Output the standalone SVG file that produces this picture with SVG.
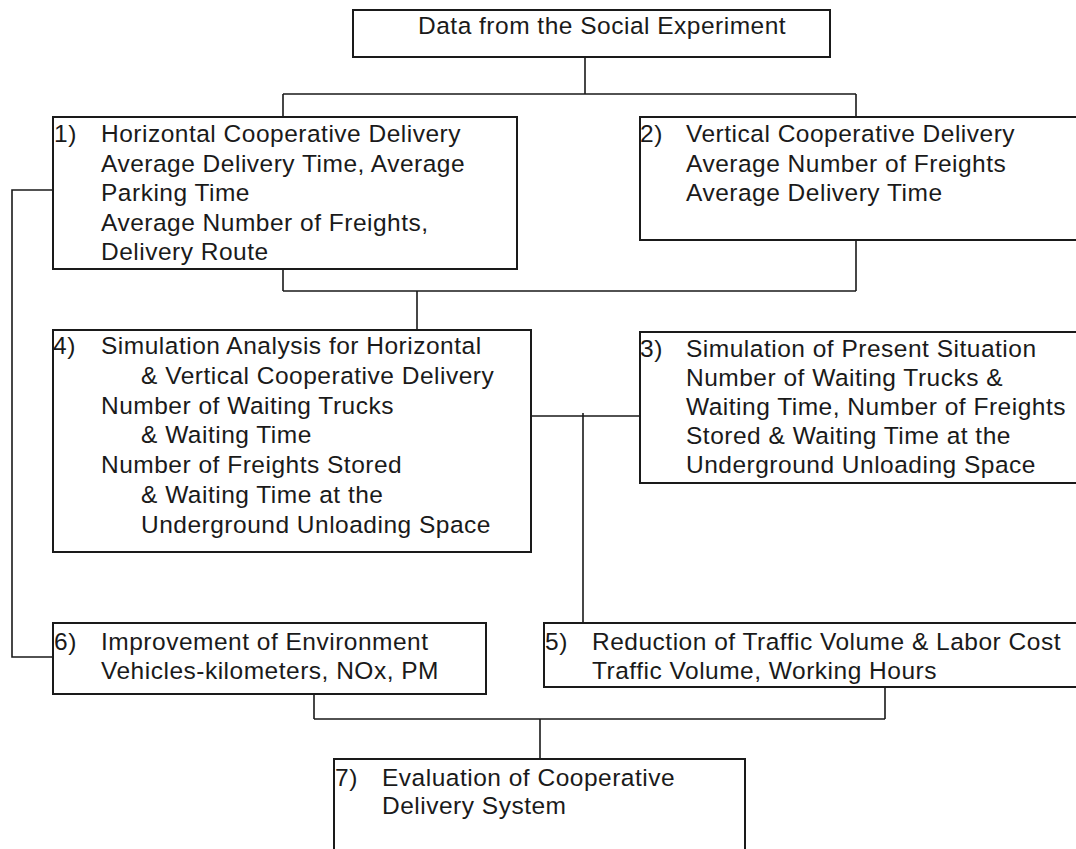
<svg xmlns="http://www.w3.org/2000/svg" width="1076" height="849" viewBox="0 0 1076 849">
<style>
.box{fill:#fff;stroke:#1a1a1a;stroke-width:2}
.conn{fill:none;stroke:#1a1a1a;stroke-width:1.6}
text{font-family:"Liberation Sans",Arial,sans-serif;font-size:24.5px;letter-spacing:0.5px;fill:#1a1a1a}
</style>
<rect width="1076" height="849" fill="#fff"/>
<g id="connectors">
<path class="conn" d="M585,57 V94 M283,94 H856 M283,94 V117 M856,94 V117"/>
<path class="conn" d="M283,269 V291 M856,240 V291 M283,291 H856 M417,291 V330"/>
<path class="conn" d="M53,190 H12 V657 H53"/>
<path class="conn" d="M531,416 H640 M583,413 V623"/>
<path class="conn" d="M314,694 V719 M885,687 V719 M314,719 H885 M540,719 V759"/>
</g>
<g id="node-top">
<rect class="box" x="353" y="10" width="477" height="47"/>
<text x="418" y="34">Data from the Social Experiment</text>
</g>
<g id="node-1">
<rect class="box" x="53" y="117" width="464" height="152"/>
<text x="54" y="142">1)</text>
<text x="101" y="142">Horizontal Cooperative Delivery</text>
<text x="101" y="171.5">Average Delivery Time, Average</text>
<text x="101" y="201">Parking Time</text>
<text x="101" y="230.5">Average Number of Freights,</text>
<text x="101" y="260">Delivery Route</text>
</g>
<g id="node-2">
<rect class="box" x="640" y="117" width="440" height="123"/>
<text x="640" y="142">2)</text>
<text x="686" y="142">Vertical Cooperative Delivery</text>
<text x="686" y="171.5">Average Number of Freights</text>
<text x="686" y="201">Average Delivery Time</text>
</g>
<g id="node-4">
<rect class="box" x="53" y="330" width="478" height="222"/>
<text x="53" y="354">4)</text>
<text x="101" y="354">Simulation Analysis for Horizontal</text>
<text x="141" y="383.8">&amp; Vertical Cooperative Delivery</text>
<text x="101" y="413.6">Number of Waiting Trucks</text>
<text x="141" y="443.4">&amp; Waiting Time</text>
<text x="101" y="473.2">Number of Freights Stored</text>
<text x="141" y="503">&amp; Waiting Time at the</text>
<text x="141" y="532.8">Underground Unloading Space</text>
</g>
<g id="node-3">
<rect class="box" x="640" y="332" width="440" height="151"/>
<text x="640" y="356.5">3)</text>
<text x="686" y="356.5">Simulation of Present Situation</text>
<text x="686" y="385.6">Number of Waiting Trucks &amp;</text>
<text x="686" y="414.7">Waiting Time, Number of Freights</text>
<text x="686" y="443.8">Stored &amp; Waiting Time at the</text>
<text x="686" y="473">Underground Unloading Space</text>
</g>
<g id="node-6">
<rect class="box" x="53" y="623" width="433" height="71"/>
<text x="54" y="650">6)</text>
<text x="101" y="650">Improvement of Environment</text>
<text x="101" y="679">Vehicles-kilometers, NOx, PM</text>
</g>
<g id="node-5">
<rect class="box" x="544" y="623" width="536" height="64"/>
<text x="545" y="650">5)</text>
<text x="592" y="650">Reduction of Traffic Volume &amp; Labor Cost</text>
<text x="592" y="679">Traffic Volume, Working Hours</text>
</g>
<g id="node-7">
<rect class="box" x="334" y="759" width="411" height="110"/>
<text x="335" y="786">7)</text>
<text x="382" y="786">Evaluation of Cooperative</text>
<text x="382" y="814">Delivery System</text>
</g>
</svg>
